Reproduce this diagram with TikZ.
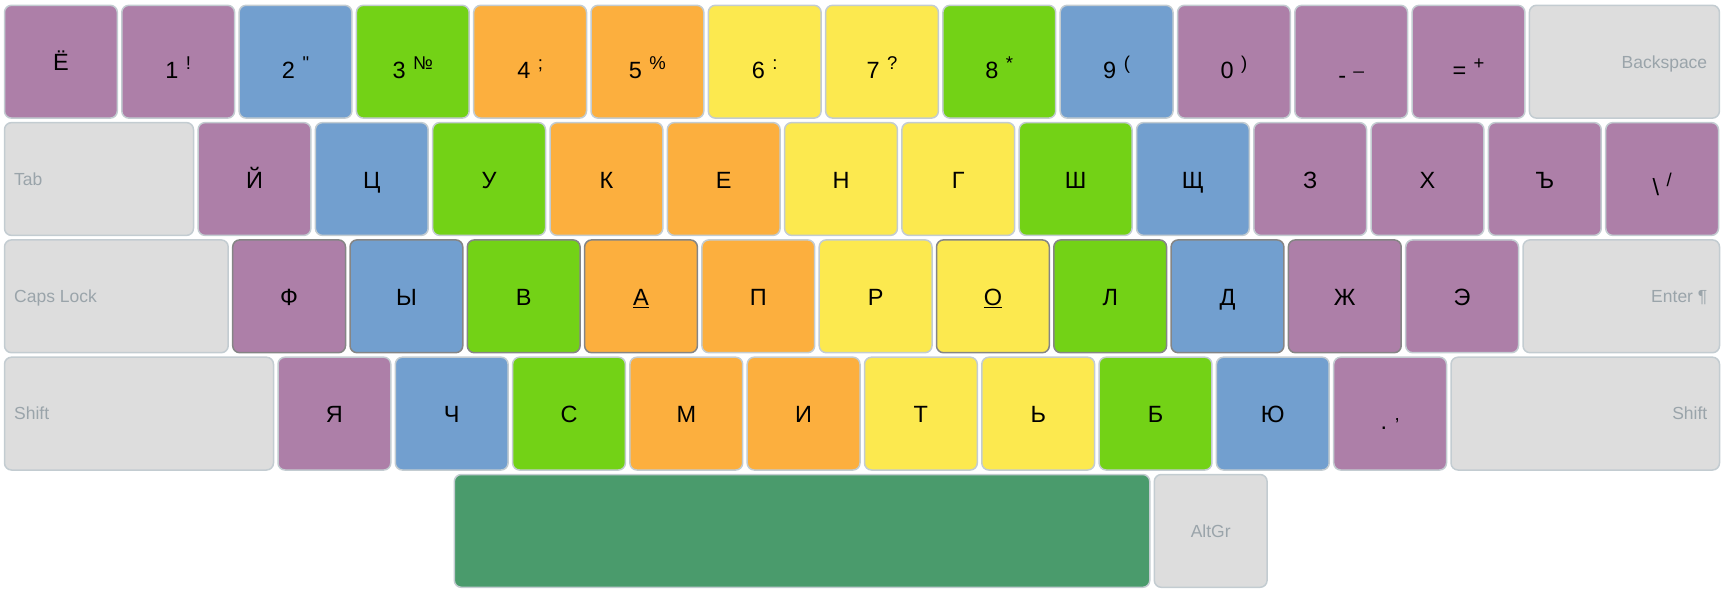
\documentclass[tikz,border=0pt]{standalone}
\usepackage{fontspec}
\setmainfont{Liberation Sans}
\definecolor{kpurple}{HTML}{AD7FA8}
\definecolor{kblue}{HTML}{729FCF}
\definecolor{kgreen}{HTML}{73D216}
\definecolor{korange}{HTML}{FCAF3E}
\definecolor{kyellow}{HTML}{FCE94F}
\definecolor{kgray}{HTML}{DDDDDD}
\definecolor{kspace}{HTML}{4A9B6C}
\definecolor{klight}{HTML}{C3CCD1}
\definecolor{kdark}{HTML}{858585}
\definecolor{ktext}{HTML}{9AA4AA}
\tikzset{
  key/.style={rectangle, rounded corners=7pt, draw=klight, line width=1.5pt,
    minimum height=112.8pt, inner sep=0pt, outer sep=0pt},
  home/.style={draw=kdark},
  lab/.style={font=\fontsize{23.5}{23.5}\selectfont, text=black, inner sep=0pt},
  glab/.style={font=\fontsize{17.5}{17.5}\selectfont, text=ktext, inner sep=0pt}
}
% name, start x, column index, row top, width, style
\newcommand\kb[6]{\node[key,#6,minimum width=#5pt] (#1) at ({#2+#3*117.3+#5/2},{#4+56.4}) {};}
\newcommand\lt[2]{\node[lab,anchor=base,yshift=-9pt] at (#1.center) {#2};}
\newcommand\pr[3]{\node[lab,anchor=base,yshift=-16.3pt] at (#1.center) {#2\hspace{7.5pt}\raisebox{9pt}{\fontsize{18.5}{18.5}\selectfont #3}};}
\begin{document}
\begin{tikzpicture}[x=1pt,y=-1pt]
\useasboundingbox (0,0) rectangle (1726,595);
% row 1
\kb{kyo}{4.5}{0}{5.3}{112.8}{fill=kpurple}
\kb{kone}{4.5}{1}{5.3}{112.8}{fill=kpurple}
\kb{ktwo}{4.5}{2}{5.3}{112.8}{fill=kblue}
\kb{kthree}{4.5}{3}{5.3}{112.8}{fill=kgreen}
\kb{kfour}{4.5}{4}{5.3}{112.8}{fill=korange}
\kb{kfive}{4.5}{5}{5.3}{112.8}{fill=korange}
\kb{ksix}{4.5}{6}{5.3}{112.8}{fill=kyellow}
\kb{kseven}{4.5}{7}{5.3}{112.8}{fill=kyellow}
\kb{keight}{4.5}{8}{5.3}{112.8}{fill=kgreen}
\kb{knine}{4.5}{9}{5.3}{112.8}{fill=kblue}
\kb{kzero}{4.5}{10}{5.3}{112.8}{fill=kpurple}
\kb{kminus}{4.5}{11}{5.3}{112.8}{fill=kpurple}
\kb{kequal}{4.5}{12}{5.3}{112.8}{fill=kpurple}
\kb{kbs}{4.5}{13}{5.3}{190}{fill=kgray}
\lt{kyo}{Ё}
\pr{kone}{1}{!}
\pr{ktwo}{2}{\addfontfeatures{Ligatures=TeXOff}"}
\pr{kthree}{3}{№}
\pr{kfour}{4}{;}
\pr{kfive}{5}{\%}
\pr{ksix}{6}{:}
\pr{kseven}{7}{?}
\pr{keight}{8}{*}
\pr{knine}{9}{(}
\pr{kzero}{0}{)}
\pr{kminus}{\raisebox{-5pt}{-}}{\_}
\pr{kequal}{=}{+}
\node[glab,anchor=base east,xshift=-12pt,yshift=-6.3pt] at (kbs.east) {Backspace};
% row 2
\kb{ktab}{4.5}{0}{122.6}{189}{fill=kgray}
\kb{kj}{198.1}{0}{122.6}{112.8}{fill=kpurple}
\kb{kc}{198.1}{1}{122.6}{112.8}{fill=kblue}
\kb{ku}{198.1}{2}{122.6}{112.8}{fill=kgreen}
\kb{kk}{198.1}{3}{122.6}{112.8}{fill=korange}
\kb{ke}{198.1}{4}{122.6}{112.8}{fill=korange}
\kb{kn}{198.1}{5}{122.6}{112.8}{fill=kyellow}
\kb{kg}{198.1}{6}{122.6}{112.8}{fill=kyellow}
\kb{ksh}{198.1}{7}{122.6}{112.8}{fill=kgreen}
\kb{kshch}{198.1}{8}{122.6}{112.8}{fill=kblue}
\kb{kz}{198.1}{9}{122.6}{112.8}{fill=kpurple}
\kb{kh}{198.1}{10}{122.6}{112.8}{fill=kpurple}
\kb{khard}{198.1}{11}{122.6}{112.8}{fill=kpurple}
\kb{kbsl}{198.1}{12}{122.6}{112.8}{fill=kpurple}
\node[glab,anchor=base west,xshift=9.5pt,yshift=-6.3pt] at (ktab.west) {Tab};
\lt{kj}{Й}
\lt{kc}{Ц}
\lt{ku}{У}
\lt{kk}{К}
\lt{ke}{Е}
\lt{kn}{Н}
\lt{kg}{Г}
\lt{ksh}{Ш}
\lt{kshch}{Щ}
\lt{kz}{З}
\lt{kh}{Х}
\lt{khard}{Ъ}
\pr{kbsl}{\textbackslash}{/}
% row 3
\kb{kcaps}{4.5}{0}{239.9}{223.7}{fill=kgray}
\kb{kf}{232.7}{0}{239.9}{112.8}{fill=kpurple,home}
\kb{ky}{232.7}{1}{239.9}{112.8}{fill=kblue,home}
\kb{kv}{232.7}{2}{239.9}{112.8}{fill=kgreen,home}
\kb{ka}{232.7}{3}{239.9}{112.8}{fill=korange,home}
\kb{kp}{232.7}{4}{239.9}{112.8}{fill=korange}
\kb{kr}{232.7}{5}{239.9}{112.8}{fill=kyellow}
\kb{ko}{232.7}{6}{239.9}{112.8}{fill=kyellow,home}
\kb{kl}{232.7}{7}{239.9}{112.8}{fill=kgreen,home}
\kb{kd}{232.7}{8}{239.9}{112.8}{fill=kblue,home}
\kb{kzh}{232.7}{9}{239.9}{112.8}{fill=kpurple,home}
\kb{kee}{232.7}{10}{239.9}{112.8}{fill=kpurple}
\kb{kenter}{1523}{0}{239.9}{196.5}{fill=kgray}
\node[glab,anchor=base west,xshift=9.5pt,yshift=-6.3pt] at (kcaps.west) {Caps Lock};
\lt{kf}{Ф}
\lt{ky}{Ы}
\lt{kv}{В}
\lt{ka}{\underline{А}}
\lt{kp}{П}
\lt{kr}{Р}
\lt{ko}{\underline{О}}
\lt{kl}{Л}
\lt{kd}{Д}
\lt{kzh}{Ж}
\lt{kee}{Э}
\node[glab,anchor=base east,xshift=-12pt,yshift=-6.3pt] at (kenter.east) {Enter ¶};
% row 4
\kb{klshift}{4.5}{0}{357.2}{269}{fill=kgray}
\kb{kya}{278}{0}{357.2}{112.8}{fill=kpurple}
\kb{kch}{278}{1}{357.2}{112.8}{fill=kblue}
\kb{ks}{278}{2}{357.2}{112.8}{fill=kgreen}
\kb{km}{278}{3}{357.2}{112.8}{fill=korange}
\kb{ki}{278}{4}{357.2}{112.8}{fill=korange}
\kb{kt}{278}{5}{357.2}{112.8}{fill=kyellow}
\kb{ksoft}{278}{6}{357.2}{112.8}{fill=kyellow}
\kb{kb}{278}{7}{357.2}{112.8}{fill=kgreen}
\kb{kyu}{278}{8}{357.2}{112.8}{fill=kblue}
\kb{kdot}{278}{9}{357.2}{112.8}{fill=kpurple}
\kb{krshift}{1451}{0}{357.2}{268.5}{fill=kgray}
\node[glab,anchor=base west,xshift=9.5pt,yshift=-6.3pt] at (klshift.west) {Shift};
\lt{kya}{Я}
\lt{kch}{Ч}
\lt{ks}{С}
\lt{km}{М}
\lt{ki}{И}
\lt{kt}{Т}
\lt{ksoft}{Ь}
\lt{kb}{Б}
\lt{kyu}{Ю}
\pr{kdot}{.}{,}
\node[glab,anchor=base east,xshift=-12pt,yshift=-6.3pt] at (krshift.east) {Shift};
% row 5
\kb{kspacebar}{454.3}{0}{474.5}{695.5}{fill=kspace}
\kb{kaltgr}{1154.3}{0}{474.5}{112.8}{fill=kgray}
\node[glab,anchor=base,yshift=-6.3pt] at (kaltgr.center) {AltGr};
\end{tikzpicture}
\end{document}
